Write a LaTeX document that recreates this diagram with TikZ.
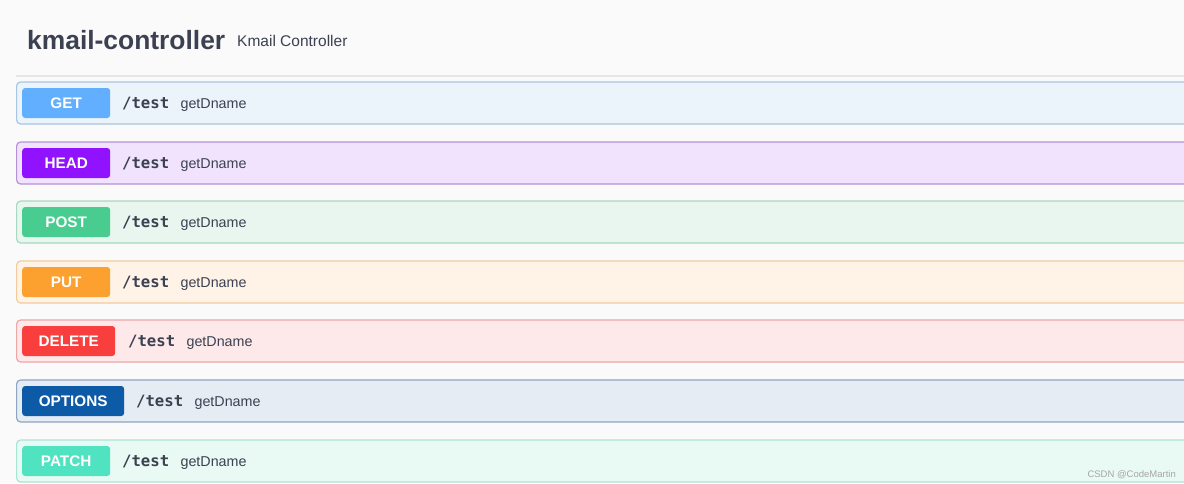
\documentclass[tikz,border=0pt]{standalone}
\usepackage{fontspec}
\setmainfont{Liberation Sans}
\newfontfamily\monof{DejaVu Sans Mono}
\definecolor{pagebg}{HTML}{FAFAFA}
\definecolor{txt}{HTML}{3B4151}
\definecolor{sepline}{HTML}{E4E6EA}
\definecolor{getC}{HTML}{61AFFE}\definecolor{getF}{HTML}{EBF3FB}\definecolor{getB}{HTML}{A9C6E0}
\definecolor{headC}{HTML}{9012FE}\definecolor{headF}{HTML}{F1E3FD}\definecolor{headB}{HTML}{B592D8}
\definecolor{postC}{HTML}{49CC90}\definecolor{postF}{HTML}{E9F6F0}\definecolor{postB}{HTML}{A8D8C2}
\definecolor{putC}{HTML}{FCA130}\definecolor{putF}{HTML}{FFF3E7}\definecolor{putB}{HTML}{F2CB9E}
\definecolor{delC}{HTML}{F93E3E}\definecolor{delF}{HTML}{FDE9E9}\definecolor{delB}{HTML}{EDA7A7}
\definecolor{optC}{HTML}{0D5AA7}\definecolor{optF}{HTML}{E6ECF4}\definecolor{optB}{HTML}{8EA5C1}
\definecolor{patC}{HTML}{50E3C2}\definecolor{patF}{HTML}{E9F9F4}\definecolor{patB}{HTML}{A9E5D6}
\tikzset{
  rowbox/.style={draw=#1B, fill=#1F, line width=1.2pt, rounded corners=4pt, anchor=west,
    minimum width=1200pt, minimum height=42pt, inner sep=0pt},
  badge/.style={fill=#1C, rounded corners=3pt, anchor=west, minimum height=30pt,
    inner sep=0pt, text=white, font=\fontsize{15.3}{16}\selectfont\bfseries},
  pathtxt/.style={anchor=base west, inner sep=0pt, text=txt, font=\monof\fontsize{15.6}{16}\selectfont\bfseries},
  sumtxt/.style={anchor=base west, inner sep=0pt, text=txt, font=\fontsize{14.3}{16}\selectfont},
}
\begin{document}
\begin{tikzpicture}[x=1pt,y=-1pt]
\useasboundingbox (0,0) rectangle (1184,483);
\clip (0,0) rectangle (1184,483);
\fill[pagebg] (0,0) rectangle (1184,483);
\node[anchor=base west, inner sep=0pt, text=txt, font=\fontsize{26.4}{28}\selectfont\bfseries] (title) at (27,49) {kmail-controller};
\node[anchor=base west, inner sep=0pt, text=txt, font=\fontsize{15.5}{17}\selectfont] (subtitle) at (237,46) {Kmail Controller};
\coordinate (sepL) at (16,76);
\coordinate (sepR) at (1184,76);
\draw[sepline, line width=1.5pt] (sepL) -- (sepR);
% rows
\foreach \nm/\key/\lab/\cy/\bw/\px in {get/get/GET/103/88/122, head/head/HEAD/163/88/122, post/post/POST/222/88/122, put/put/PUT/282/88/122, del/del/DELETE/341/93/128, opt/opt/OPTIONS/401/102/136, pat/pat/PATCH/461/88/122}{
  \node[rowbox=\key] (row-\nm) at (16,\cy) {};
  \node[badge=\key, minimum width=\bw pt] (badge-\nm) at (22,\cy) {\lab};
  \node[pathtxt] (path-\nm) at (\px,\cy+5.5) {/test};
  \node[sumtxt] (sum-\nm) at ([xshift=11pt]path-\nm.base east) {getDname};
}
\node[anchor=base east, inner sep=0pt, text=gray!70, font=\fontsize{9.5}{10}\selectfont] (wm) at (1176,477) {CSDN @CodeMartin};
\end{tikzpicture}
\end{document}
